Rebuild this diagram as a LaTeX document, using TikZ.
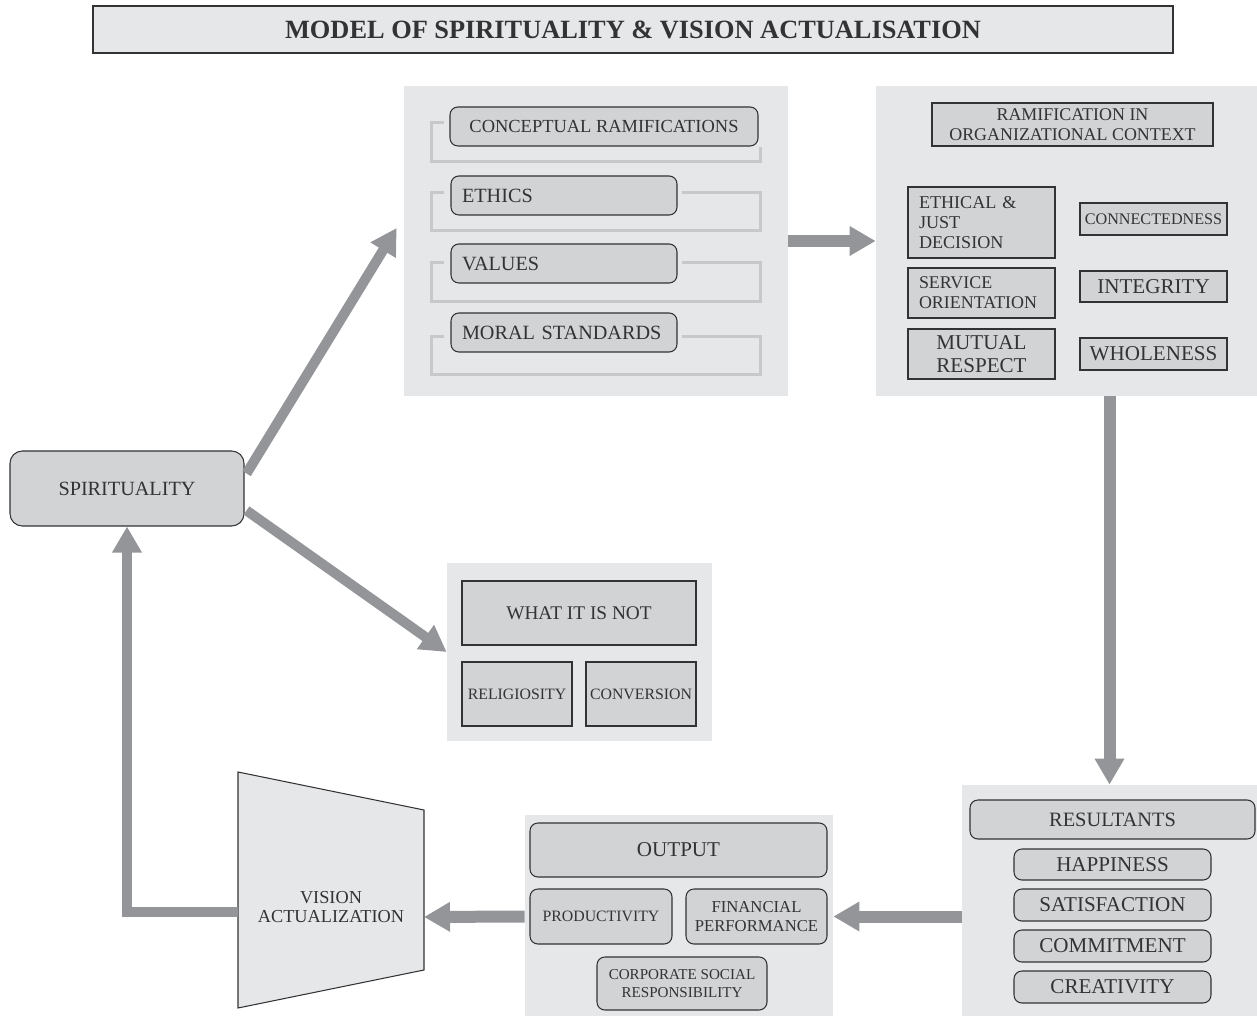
\documentclass[tikz,border=0pt]{standalone}
\usepackage{fontspec}
\setmainfont{Liberation Serif}
\usetikzlibrary{arrows.meta,calc}

\definecolor{panelgray}{HTML}{E6E7E8}
\definecolor{boxgray}{HTML}{D1D3D4}
\definecolor{arrowgray}{HTML}{939598}
\definecolor{bracketgray}{HTML}{C7C8CA}
\definecolor{inkgray}{HTML}{333335}

\newcommand{\boxfont}[2]{\fontsize{#1}{#2}\selectfont}

\tikzset{
  corners/.style n args={4}{minimum width={(#3-#1)*0.02cm}, minimum height={(#4-#2)*0.02cm}, at={({(#1+#3)/2},{(#2+#4)/2})}},
  panel/.style={fill=panelgray, inner sep=0pt},
  sbox/.style={draw=inkgray, fill=boxgray, line width=0.6pt, inner sep=0pt, text=inkgray, align=center},
  rbox/.style={sbox, rounded corners=4.5pt},
  flow/.style={draw=arrowgray, line width=0.24cm, -{Triangle[width=0.56cm,length=0.52cm]}},
  thinflow/.style={flow, line width=0.2cm},
  bracket/.style={draw=bracketgray, line width=0.06cm},
}

\begin{document}
\begin{tikzpicture}[x=0.02cm, y=-0.02cm]
    \useasboundingbox (0,0) rectangle (1257,1016);

    % Title
    \node[sbox, fill=panelgray, corners={93}{6}{1173}{53}, font=\bfseries\boxfont{15}{16}] (title) {MODEL OF SPIRITUALITY \& VISION ACTUALISATION};

    % Panels
    \node[panel, corners={404}{86}{788}{396}] (conceptpanel) {};
    \node[panel, corners={876}{86}{1257}{396}] (orgpanel) {};
    \node[panel, corners={447}{563}{712}{741}] (notpanel) {};
    \node[panel, corners={525}{815}{833}{1016}] (outpanel) {};
    \node[panel, corners={962}{785}{1257}{1016}] (resultpanel) {};

    % Brackets
    \draw[bracket] (444,123) -| (431,162) -| (760,147);
    \draw[bracket] (444,193) -| (431,231) -| (760,193) -- (682,193);
    \draw[bracket] (444,263) -| (431,302) -| (760,263) -- (682,263);
    \draw[bracket] (444,337) -| (431,375) -| (760,337) -- (682,337);

    % Conceptual ramifications
    \node[rbox, corners={450}{107}{758}{146}, font=\boxfont{10.5}{12}] (concept) {CONCEPTUAL RAMIFICATIONS};
    \node[rbox, corners={451}{176}{677}{215}, text width=4.08cm, align=left, font=\boxfont{11.5}{13}] (ethics) {ETHICS};
    \node[rbox, corners={451}{244}{677}{283}, text width=4.08cm, align=left, font=\boxfont{11.5}{13}] (values) {VALUES};
    \node[rbox, corners={451}{313}{677}{352}, text width=4.08cm, align=left, font=\boxfont{11.5}{13}] (moral) {MORAL STANDARDS};

    % Organizational context
    \node[sbox, corners={932}{103}{1213}{146}, font=\boxfont{10.2}{11.3}] (orgtitle) {RAMIFICATION IN\\ORGANIZATIONAL CONTEXT};
    \node[sbox, corners={908}{187}{1055}{258}, text width=2.5cm, align=left, font=\boxfont{10.3}{11.6}] (ethical) {ETHICAL \&\\JUST\\DECISION};
    \node[sbox, corners={908}{268}{1055}{318}, text width=2.5cm, align=left, font=\boxfont{10.2}{11.3}] (service) {SERVICE\\ORIENTATION};
    \node[sbox, corners={908}{329}{1055}{379}, font=\boxfont{12}{13}] (mutual) {MUTUAL\\RESPECT};
    \node[sbox, corners={1080}{203}{1227}{235}, font=\boxfont{9.2}{10}] (connect) {CONNECTEDNESS};
    \node[sbox, corners={1080}{271}{1227}{302}, font=\boxfont{12}{13}] (integrity) {INTEGRITY};
    \node[sbox, corners={1080}{338}{1227}{370}, font=\boxfont{12}{13}] (whole) {WHOLENESS};

    % What it is not
    \node[sbox, corners={462}{581}{696}{645}, font=\boxfont{11}{12}] (notwhat) {WHAT IT IS NOT};
    \node[sbox, corners={462}{662}{572}{726}, font=\boxfont{9}{10}] (relig) {RELIGIOSITY};
    \node[sbox, corners={586}{662}{696}{726}, font=\boxfont{9}{10}] (conver) {CONVERSION};

    % Output
    \node[rbox, corners={530}{823}{827}{877}, font=\boxfont{12}{13}] (output) {OUTPUT};
    \node[rbox, corners={530}{889}{672}{944}, font=\boxfont{9}{10}] (product) {PRODUCTIVITY};
    \node[rbox, corners={686}{889}{827}{944}, font=\boxfont{9.5}{11.3}] (finance) {FINANCIAL\\PERFORMANCE};
    \node[rbox, corners={597}{957}{767}{1010}, font=\boxfont{8.6}{10.2}] (csr) {CORPORATE SOCIAL\\RESPONSIBILITY};

    % Resultants
    \node[rbox, corners={970}{800}{1255}{839}, font=\boxfont{11.6}{13}] (result) {RESULTANTS};
    \node[rbox, corners={1014}{849}{1211}{880}, font=\boxfont{12}{13}] (happy) {HAPPINESS};
    \node[rbox, corners={1014}{889}{1211}{921}, font=\boxfont{12}{13}] (satis) {SATISFACTION};
    \node[rbox, corners={1014}{930}{1211}{962}, font=\boxfont{12}{13}] (commit) {COMMITMENT};
    \node[rbox, corners={1014}{971}{1211}{1003}, font=\boxfont{12}{13}] (creat) {CREATIVITY};

    % Spirituality
    \node[rbox, rounded corners=7pt, corners={10}{451}{244}{526}, font=\boxfont{11.5}{13}] (spirit) {SPIRITUALITY};

    % Vision
    \filldraw[draw=inkgray, fill=panelgray, line width=0.6pt] (238,772) -- (424,810) -- (424,970) -- (238,1008) -- cycle;
    \node[text=inkgray, align=center, font=\boxfont{10.4}{11.3}] (vision) at (331,907) {VISION\\ACTUALIZATION};
    \coordinate (visionL) at (238,912);
    \coordinate (visionR) at (424,917);

    % Arrows
    \draw[thinflow] ($(spirit.east)+(2,-15)$) -- ($(conceptpanel.west)+(-7,-13)$);
    \draw[thinflow] ($(spirit.east)+(2,22)$) -- (notpanel.west);
    \draw[flow] (conceptpanel) -- (orgpanel);
    \draw[flow] (orgpanel.south -| resultpanel) -- (resultpanel);
    \draw[flow] (resultpanel.west |- finance) -- (outpanel.east |- finance);
    \draw[flow] (outpanel.west |- finance) -- (visionR);
    \draw[thinflow] (visionL) -| (spirit.south);

\end{tikzpicture}
\end{document}
